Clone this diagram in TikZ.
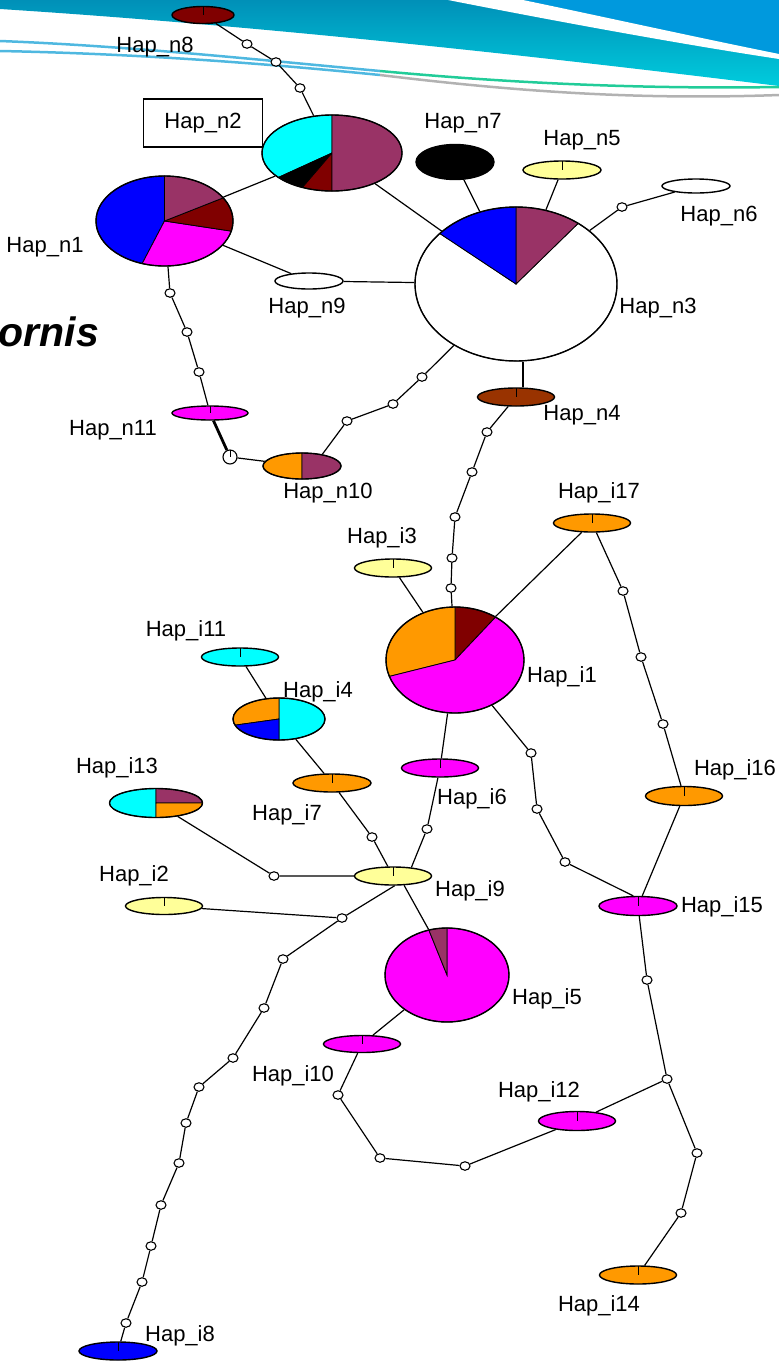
\documentclass[tikz,border=0pt]{standalone}
\usepackage{fontspec}
\setmainfont{Liberation Sans}
\usetikzlibrary{shapes.geometric}
\definecolor{plum}{HTML}{993366}
\definecolor{maroon}{HTML}{800000}
\definecolor{amber}{HTML}{FF9900}
\definecolor{cream}{HTML}{FFFF99}
\definecolor{rust}{HTML}{993300}
\definecolor{aqua}{HTML}{00FFFF}
\definecolor{fuchsia}{HTML}{FF00FF}
\definecolor{pureblue}{HTML}{0000FF}
\definecolor{tealdark}{HTML}{0090B8}
\definecolor{teallight}{HTML}{00CCDD}
\definecolor{skyband}{HTML}{0099DD}
\definecolor{seagreen}{HTML}{22CC99}
\definecolor{skyline}{HTML}{4FB8E0}
\tikzstyle{tick}=[path picture={\draw[line width=0.8pt] (path picture bounding box.north) -- (path picture bounding box.center);}]
\tikzstyle{hap}=[ellipse, draw, line width=1.4pt, inner sep=0pt]
\tikzstyle{hapt}=[hap, tick]
\tikzstyle{mut}=[ellipse, draw, fill=white, line width=1.1pt, inner sep=0pt, minimum width=10pt, minimum height=8.5pt]
\tikzstyle{link}=[line width=1.2pt]
\tikzstyle{heavy}=[line width=2.8pt]
\tikzstyle{lbl}=[font=\fontsize{22}{25}\selectfont, inner sep=0pt]
\tikzset{sz/.style 2 args={minimum width=#1pt, minimum height=#2pt}}
\newcommand{\pieslice}[6]{\filldraw[fill=#6, draw=black, line width=0.8pt, shift={(#1)}] (0,0) -- plot[domain=#4:#5, samples=40] ({#2*cos(\x)},{-#3*sin(\x)}) -- cycle;}

\begin{document}
\begin{tikzpicture}[x=1pt, y=-1pt]
	\useasboundingbox (0,0) rectangle (779,1361);
	\shade[top color=tealdark, bottom color=teallight] (0,0) -- (779,0) -- (779,86) .. controls (520,54) and (250,25) .. (0,9) -- cycle;
	\fill[skyband] (523,0) -- (779,0) -- (779,54) .. controls (690,36) and (600,16) .. (523,0) -- cycle;
	\fill[white] (448,0) .. controls (560,22) and (680,44) .. (779,59) -- (779,54) .. controls (690,36) and (600,16) .. (523,0) -- cycle;
	\draw[line width=2.5pt, skyline] (0,41) .. controls (130,46) and (260,60) .. (380,71);
	\draw[line width=2.5pt, seagreen] (380,71) .. controls (520,84) and (650,89) .. (779,87);
	\draw[line width=2.5pt, skyline] (0,51) .. controls (150,54) and (280,65) .. (380,75);
	\draw[line width=2.5pt, gray!60] (380,75) .. controls (520,92) and (640,100) .. (779,95);
	\node		[font=\fontsize{41}{44}\selectfont\bfseries\itshape, anchor=base east, inner sep=0pt]	(title) at (99,346) {ornis};

	\coordinate (pn2) at (332,153);
	\pieslice{pn2}{70}{38}{90}{220}{aqua}
	\pieslice{pn2}{70}{38}{220}{245}{black}
	\pieslice{pn2}{70}{38}{245}{270}{maroon}
	\pieslice{pn2}{70}{38}{-90}{90}{plum}
	\coordinate (pn1) at (164.5,221);
	\pieslice{pn1}{68.5}{45}{90}{251}{pureblue}
	\pieslice{pn1}{68.5}{45}{251}{347}{fuchsia}
	\pieslice{pn1}{68.5}{45}{-13}{31}{maroon}
	\pieslice{pn1}{68.5}{45}{31}{90}{plum}
	\coordinate (pn3) at (516,284);
	\pieslice{pn3}{101}{77}{139}{412}{white}
	\pieslice{pn3}{101}{77}{52}{90}{plum}
	\pieslice{pn3}{101}{77}{90}{139}{pureblue}
	\coordinate (pn10) at (302,466);
	\pieslice{pn10}{39}{13}{90}{270}{amber}
	\pieslice{pn10}{39}{13}{-90}{90}{plum}
	\coordinate (pi1) at (455,660);
	\pieslice{pi1}{69}{53}{54}{90}{maroon}
	\pieslice{pi1}{69}{53}{90}{198}{amber}
	\pieslice{pi1}{69}{53}{198}{414}{fuchsia}
	\coordinate (pi4) at (279,719);
	\pieslice{pi4}{46}{21}{-90}{90}{aqua}
	\pieslice{pi4}{46}{21}{90}{197}{amber}
	\pieslice{pi4}{46}{21}{197}{270}{pureblue}
	\coordinate (pi13) at (156,803);
	\pieslice{pi13}{46.5}{14.5}{90}{270}{aqua}
	\pieslice{pi13}{46.5}{14.5}{0}{90}{plum}
	\pieslice{pi13}{46.5}{14.5}{-90}{0}{amber}
	\coordinate (pi5) at (447,975);
	\pieslice{pi5}{62}{47}{107}{450}{fuchsia}
	\pieslice{pi5}{62}{47}{90}{107}{plum}

	\node		[hapt, fill=maroon, sz={62}{17}]		(n8) at (203,15) {};
	\node		[hap, sz={140}{76}]		(n2) at (pn2) {};
	\node		[hap, sz={137}{90}]		(n1) at (pn1) {};
	\node		[hap, fill=white, sz={68}{16}]		(n9) at (309,281) {};
	\node		[hap, fill=black, sz={78}{35}]		(n7) at (455,162) {};
	\node		[hapt, fill=cream, sz={78}{18}]		(n5) at (562,170) {};
	\node		[hap, fill=white, sz={68}{14}]		(n6) at (696,186) {};
	\node		[hap, sz={202}{154}]		(n3) at (pn3) {};
	\node		[hapt, fill=rust, sz={77}{18}]		(n4) at (516,397) {};
	\node		[hapt, fill=fuchsia, sz={76}{14}]		(n11) at (210,413) {};
	\node		[hap, sz={78}{26}]		(n10) at (pn10) {};
	\node		[hapt, fill=amber, sz={77}{18}]		(i17) at (592,523) {};
	\node		[hapt, fill=cream, sz={77}{18}]		(i3) at (393,568) {};
	\node		[hap, sz={138}{106}]		(i1) at (pi1) {};
	\node		[hapt, fill=aqua, sz={77}{18}]		(i11) at (240,657) {};
	\node		[hap, sz={92}{42}]		(i4) at (pi4) {};
	\node		[hapt, fill=amber, sz={78}{18}]		(i7) at (332,783) {};
	\node		[hap, sz={93}{29}]		(i13) at (pi13) {};
	\node		[hapt, fill=cream, sz={77}{18}]		(i9) at (393,876) {};
	\node		[hapt, fill=cream, sz={77}{17}]		(i2) at (164,906) {};
	\node		[hapt, fill=fuchsia, sz={77}{18}]		(i6) at (440,768) {};
	\node		[hapt, fill=amber, sz={77}{19}]		(i16) at (684,796) {};
	\node		[hapt, fill=fuchsia, sz={78}{19}]		(i15) at (638,906) {};
	\node		[hap, sz={124}{94}]		(i5) at (pi5) {};
	\node		[hapt, fill=fuchsia, sz={77}{17}]		(i10) at (362,1044) {};
	\node		[hapt, fill=fuchsia, sz={77}{19}]		(i12) at (577,1121) {};
	\node		[hapt, fill=amber, sz={77}{18}]		(i14) at (638,1275) {};
	\node		[hapt, fill=pureblue, sz={78}{18}]		(i8) at (118,1351) {};

	\node		[mut]		(a1) at (247,44) {};
	\node		[mut]		(a2) at (276,62) {};
	\node		[mut]		(a3) at (300,88) {};
	\node		[mut]		(b1) at (622,207) {};
	\node		[mut]		(c1) at (170,293) {};
	\node		[mut]		(c2) at (187,332) {};
	\node		[mut]		(c3) at (199,372) {};
	\node		[mut, tick, minimum size=14pt]		(w) at (230,457) {};
	\node		[mut]		(d1) at (422,377) {};
	\node		[mut]		(d2) at (393,404) {};
	\node		[mut]		(d3) at (347,421) {};
	\node		[mut]		(e1) at (487,432) {};
	\node		[mut]		(e2) at (472,472) {};
	\node		[mut]		(e3) at (455,517) {};
	\node		[mut]		(e4) at (452,558) {};
	\node		[mut]		(e5) at (451,588) {};
	\node		[mut]		(f1) at (623,591) {};
	\node		[mut]		(f2) at (641,657) {};
	\node		[mut]		(f3) at (663,724) {};
	\node		[mut]		(g1) at (427,829) {};
	\node		[mut]		(h1) at (531,753) {};
	\node		[mut]		(h2) at (537,809) {};
	\node		[mut]		(h3) at (565,862) {};
	\node		[mut]		(k1) at (372,837) {};
	\node		[mut]		(k2) at (274,876) {};
	\node		[mut]		(j0) at (342,918) {};
	\node		[mut]		(j1) at (283,959) {};
	\node		[mut]		(j2) at (264,1008) {};
	\node		[mut]		(j3) at (233,1058) {};
	\node		[mut]		(j4) at (199,1087) {};
	\node		[mut]		(j5) at (186,1123) {};
	\node		[mut]		(j6) at (179,1163) {};
	\node		[mut]		(j7) at (161,1205) {};
	\node		[mut]		(j8) at (151,1246) {};
	\node		[mut]		(j9) at (142,1282) {};
	\node		[mut]		(j10) at (126,1323) {};
	\node		[mut]		(l1) at (338,1095) {};
	\node		[mut]		(l2) at (380,1158) {};
	\node		[mut]		(l3) at (465,1166) {};
	\node		[mut]		(q1) at (647,980) {};
	\node		[mut]		(q2) at (667,1079) {};
	\node		[mut]		(q3) at (697,1153) {};
	\node		[mut]		(q4) at (681,1213) {};

	\draw[link] (n8) -- (a1) -- (a2) -- (a3) -- (n2);
	\draw[link] (n1) -- (n2);
	\draw[link] (n2) -- (n3);
	\draw[link] (n1) -- (n9);
	\draw[link] (n9) -- (n3);
	\draw[link] (n7) -- (n3);
	\draw[link] (n5) -- (n3);
	\draw[link] (n3) -- (b1) -- (n6);
	\draw[heavy] ([xshift=7pt]n3.south) -- ([xshift=7pt]n4.north);
	\draw[link] (n4) -- (e1) -- (e2) -- (e3) -- (e4) -- (e5) -- (i1);
	\draw[link] (n3) -- (d1) -- (d2) -- (d3) -- (n10.30);
	\draw[link] (n1) -- (c1) -- (c2) -- (c3) -- (n11);
	\draw[heavy] (n11) -- (w);
	\draw[link] (w) -- (n10);
	\draw[link] (i3) -- (i1);
	\draw[link] (i17.222) -- (i1.47);
	\draw[link] (i17) -- (f1) -- (f2) -- (f3) -- (i16);
	\draw[link] (i16) -- (i15);
	\draw[link] (i1) -- (i6);
	\draw[link] (i6) -- (g1) -- (i9.25);
	\draw[link] (i1) -- (h1) -- (h2) -- (h3) -- (i15.115);
	\draw[link] (i11) -- (i4);
	\draw[link] (i4) -- (i7);
	\draw[link] (i7) -- (k1) -- (i9);
	\draw[link] (i13) -- (k2) -- (i9);
	\draw[link] (i2) -- (j0) -- (i9.-80);
	\draw[link] (j0) -- (j1) -- (j2) -- (j3) -- (j4) -- (j5) -- (j6) -- (j7) -- (j8) -- (j9) -- (j10) -- (i8);
	\draw[link] (i9.-40) -- (i5.112);
	\draw[link] (i5) -- (i10);
	\draw[link] (i10) -- (l1) -- (l2) -- (l3) -- (i12);
	\draw[link] (i12) -- (q2);
	\draw[link] (i15) -- (q1) -- (q2) -- (q3) -- (q4) -- (i14);

	\node		[lbl]		(tn8) at (155,47) {Hap\_n8};
	\node		[lbl, draw, line width=1.2pt, minimum width=119pt, minimum height=48pt]		(tn2) at (203,123) {Hap\_n2};
	\node		[lbl]		(tn1) at (45,247) {Hap\_n1};
	\node		[lbl]		(tn9) at (307,308) {Hap\_n9};
	\node		[lbl]		(tn7) at (463,123) {Hap\_n7};
	\node		[lbl]		(tn5) at (582,140) {Hap\_n5};
	\node		[lbl]		(tn6) at (719,216) {Hap\_n6};
	\node		[lbl]		(tn3) at (658,308) {Hap\_n3};
	\node		[lbl]		(tn4) at (582,415) {Hap\_n4};
	\node		[lbl]		(tn11) at (113,430) {Hap\_n11};
	\node		[lbl]		(tn10) at (328,493) {Hap\_n10};
	\node		[lbl]		(ti17) at (599,493) {Hap\_i17};
	\node		[lbl]		(ti3) at (382,538) {Hap\_i3};
	\node		[lbl]		(ti1) at (562,677) {Hap\_i1};
	\node		[lbl]		(ti11) at (186,631) {Hap\_i11};
	\node		[lbl]		(ti4) at (318,692) {Hap\_i4};
	\node		[lbl]		(ti13) at (117,768) {Hap\_i13};
	\node		[lbl]		(ti7) at (287,815) {Hap\_i7};
	\node		[lbl]		(ti6) at (472,799) {Hap\_i6};
	\node		[lbl]		(ti16) at (735,770) {Hap\_i16};
	\node		[lbl]		(ti2) at (134,876) {Hap\_i2};
	\node		[lbl]		(ti9) at (470,891) {Hap\_i9};
	\node		[lbl]		(ti15) at (722,907) {Hap\_i15};
	\node		[lbl]		(ti5) at (547,999) {Hap\_i5};
	\node		[lbl]		(ti10) at (293,1076) {Hap\_i10};
	\node		[lbl]		(ti12) at (539,1092) {Hap\_i12};
	\node		[lbl]		(ti14) at (599,1306) {Hap\_i14};
	\node		[lbl]		(ti8) at (180,1336) {Hap\_i8};
\end{tikzpicture}
\end{document}
